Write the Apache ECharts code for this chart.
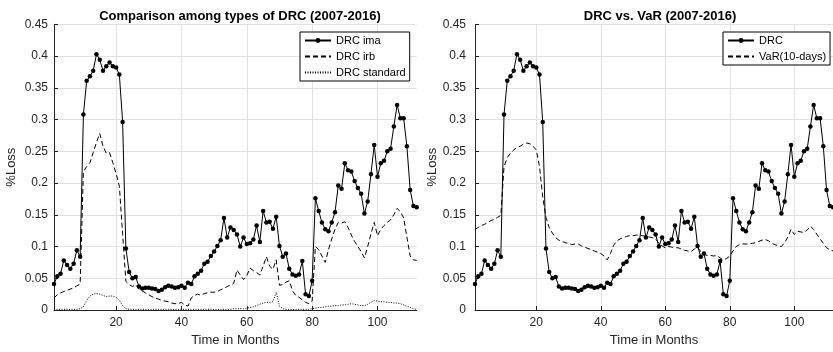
<!DOCTYPE html>
<html>
<head>
<meta charset="utf-8">
<script src="https://cdn.jsdelivr.net/npm/echarts@6/dist/echarts.min.js"></script>
<style>
html,body{margin:0;padding:0;background:#fff;}
#chart{width:833px;height:352px;}
</style>
</head>
<body>
<div id="chart"></div>
<script>
// Month index 1..112
const xTicks = [20, 40, 60, 80, 100];
const yMax = 0.45;
const yStep = 0.05;

const drcIma = [0.041,0.053,0.057,0.078,0.071,0.065,0.073,0.094,0.084,0.308,
0.361,0.368,0.377,0.403,0.394,0.377,0.384,0.390,0.384,0.382,
0.371,0.296,0.097,0.060,0.050,0.052,0.037,0.034,0.035,0.035,
0.034,0.033,0.030,0.032,0.036,0.038,0.037,0.035,0.036,0.038,
0.035,0.043,0.041,0.053,0.057,0.062,0.073,0.076,0.085,0.092,
0.101,0.110,0.145,0.114,0.130,0.126,0.119,0.100,0.114,0.104,
0.105,0.111,0.133,0.107,0.156,0.138,0.139,0.128,0.147,0.101,
0.084,0.089,0.065,0.056,0.054,0.056,0.077,0.025,0.022,0.046,
0.176,0.156,0.138,0.127,0.124,0.138,0.154,0.196,0.191,0.231,
0.220,0.218,0.203,0.192,0.183,0.152,0.171,0.214,0.260,0.210,
0.231,0.235,0.250,0.254,0.289,0.323,0.302,0.302,0.258,0.189,
0.164,0.162];

const drcIrb = [0.019,0.024,0.027,0.029,0.031,0.033,0.035,0.038,0.041,0.218,
0.226,0.232,0.248,0.264,0.278,0.258,0.247,0.248,0.232,0.215,
0.195,0.120,0.045,0.040,0.037,0.040,0.033,0.030,0.027,0.024,
0.021,0.019,0.017,0.015,0.014,0.013,0.011,0.010,0.010,0.012,
0.008,0.006,0.019,0.023,0.025,0.023,0.026,0.027,0.028,0.028,
0.029,0.032,0.034,0.037,0.039,0.042,0.063,0.055,0.048,0.054,
0.066,0.062,0.059,0.055,0.069,0.084,0.069,0.064,0.079,0.039,
0.040,0.044,0.046,0.030,0.023,0.020,0.016,0.012,0.010,0.014,
0.100,0.095,0.085,0.075,0.095,0.112,0.127,0.138,0.137,0.139,
0.130,0.118,0.108,0.100,0.092,0.082,0.100,0.120,0.138,0.117,
0.127,0.133,0.138,0.142,0.150,0.160,0.155,0.145,0.115,0.085,
0.079,0.078];

const drcStd = [0.001,0.001,0.001,0.001,0.001,0.001,0.001,0.001,0.002,0.005,
0.015,0.022,0.025,0.026,0.025,0.023,0.021,0.022,0.022,0.020,
0.015,0.007,0.002,0.001,0.001,0.001,0.001,0.001,0.001,0.001,
0.001,0.001,0.001,0.001,0.001,0.001,0.001,0.001,0.001,0.001,
0.001,0.001,0.001,0.001,0.001,0.001,0.001,0.001,0.001,0.001,
0.001,0.001,0.001,0.001,0.001,0.002,0.002,0.002,0.002,0.003,
0.004,0.005,0.007,0.009,0.011,0.012,0.012,0.013,0.028,0.006,
0.002,0.001,0.001,0.001,0.001,0.001,0.001,0.001,0.001,0.002,
0.003,0.004,0.004,0.005,0.006,0.006,0.007,0.007,0.008,0.008,
0.009,0.010,0.009,0.008,0.007,0.007,0.009,0.012,0.015,0.014,
0.013,0.013,0.012,0.012,0.011,0.011,0.010,0.008,0.006,0.004,
0.002,0.001];

const varTen = [0.127,0.130,0.133,0.135,0.138,0.141,0.143,0.146,0.149,0.226,
0.240,0.247,0.252,0.256,0.258,0.261,0.263,0.262,0.258,0.252,
0.226,0.178,0.146,0.130,0.121,0.114,0.110,0.108,0.106,0.105,
0.103,0.104,0.104,0.101,0.099,0.097,0.095,0.093,0.091,0.089,
0.085,0.079,0.089,0.102,0.109,0.112,0.114,0.116,0.117,0.117,
0.118,0.118,0.117,0.116,0.115,0.114,0.112,0.105,0.101,0.098,
0.100,0.099,0.098,0.098,0.096,0.094,0.093,0.092,0.096,0.099,
0.092,0.088,0.086,0.086,0.085,0.086,0.082,0.079,0.081,0.085,
0.093,0.100,0.103,0.104,0.104,0.104,0.105,0.106,0.108,0.110,
0.111,0.109,0.105,0.103,0.101,0.100,0.106,0.115,0.127,0.119,
0.124,0.123,0.122,0.126,0.132,0.127,0.119,0.112,0.105,0.098,
0.095,0.093];

const FONT = '"Liberation Sans", Arial, Helvetica, sans-serif';
const AX = '#262626';
const GRIDC = '#e2e2e2';

function pairs(arr){ return arr.map((v,i)=>[i+1, v]); }

function xAxisFor(g){
  return {
    type:'value', gridIndex:g, min:1, max:112,
    name:'Time in Months', nameLocation:'middle', nameGap:24,
    nameTextStyle:{fontFamily:FONT, fontSize:13, color:AX},
    axisLine:{show:true, onZero:false, lineStyle:{color:AX, width:1}},
    axisTick:{show:true, inside:true, length:4, customValues:xTicks, lineStyle:{color:AX}},
    axisLabel:{customValues:xTicks, fontFamily:FONT, fontSize:12, color:AX, margin:7},
    splitLine:{show:true, customValues:xTicks, lineStyle:{color:GRIDC, width:1}}
  };
}
function yAxisFor(g, labelMargin){
  return {
    type:'value', gridIndex:g, min:0, max:yMax, interval:yStep,
    name:'%Loss', nameLocation:'middle', nameGap:36,
    nameTextStyle:{fontFamily:FONT, fontSize:13, color:AX},
    axisLine:{show:true, lineStyle:{color:AX, width:1}},
    axisTick:{show:true, inside:true, length:4, lineStyle:{color:AX}},
    axisLabel:{fontFamily:FONT, fontSize:12, color:AX, margin:labelMargin,
      formatter:(v)=>String(parseFloat(Number(v).toFixed(3)))},
    splitLine:{show:true, lineStyle:{color:GRIDC, width:1}}
  };
}

const legendCommon = {
  orient:'vertical', top:32, padding:[3,4,3,4], itemGap:5, itemWidth:26, itemHeight:6,
  borderColor:'#000', borderWidth:1, borderRadius:0, backgroundColor:'#fff',
  textStyle:{fontFamily:FONT, fontSize:11, color:'#000', lineHeight:11}
};

const chart = echarts.init(document.getElementById('chart'), null, {renderer:'canvas'});
chart.setOption({
  animation:false,
  backgroundColor:'#fff',
  title:[
    {text:'Comparison among types of DRC (2007-2016)', left:235, top:5, textAlign:'center',
     textStyle:{fontFamily:FONT, fontSize:13, fontWeight:'bold', color:'#000'}},
    {text:'DRC vs. VaR (2007-2016)', left:655, top:5, textAlign:'center',
     textStyle:{fontFamily:FONT, fontSize:13, fontWeight:'bold', color:'#000'}}
  ],
  grid:[
    {left:54, top:24.3, width:362.7, height:286.4},
    {left:475, top:24.3, width:360.75, height:286.4}
  ],
  legend:[
    Object.assign({left:300, data:[
      {name:'DRC ima'},
      {name:'DRC irb', itemStyle:{opacity:0}},
      {name:'DRC standard', itemStyle:{opacity:0}}
    ]}, legendCommon),
    Object.assign({left:723, data:[
      {name:'DRC'},
      {name:'VaR(10-days)', itemStyle:{opacity:0}}
    ]}, legendCommon)
  ],
  xAxis:[xAxisFor(0), xAxisFor(1)],
  yAxis:[yAxisFor(0, 6), yAxisFor(1, 9)],
  series:[
    {name:'DRC ima', type:'line', xAxisIndex:0, yAxisIndex:0, data:pairs(drcIma),
     symbol:'circle', symbolSize:4.5, lineStyle:{color:'#000', width:1}, itemStyle:{color:'#000'}, z:5},
    {name:'DRC irb', type:'line', xAxisIndex:0, yAxisIndex:0, data:pairs(drcIrb),
     showSymbol:false, symbol:'none', lineStyle:{color:'#000', width:1, type:[5,3]}, itemStyle:{color:'#000'}, z:4},
    {name:'DRC standard', type:'line', xAxisIndex:0, yAxisIndex:0, data:pairs(drcStd),
     showSymbol:false, symbol:'none', lineStyle:{color:'#000', width:1, type:[1,1.5]}, itemStyle:{color:'#000'}, z:3},
    {name:'DRC', type:'line', xAxisIndex:1, yAxisIndex:1, data:pairs(drcIma),
     symbol:'circle', symbolSize:4.5, lineStyle:{color:'#000', width:1}, itemStyle:{color:'#000'}, z:5},
    {name:'VaR(10-days)', type:'line', xAxisIndex:1, yAxisIndex:1, data:pairs(varTen),
     showSymbol:false, symbol:'none', lineStyle:{color:'#000', width:1, type:[5,3]}, itemStyle:{color:'#000'}, z:4}
  ]
});
</script>
</body>
</html>
